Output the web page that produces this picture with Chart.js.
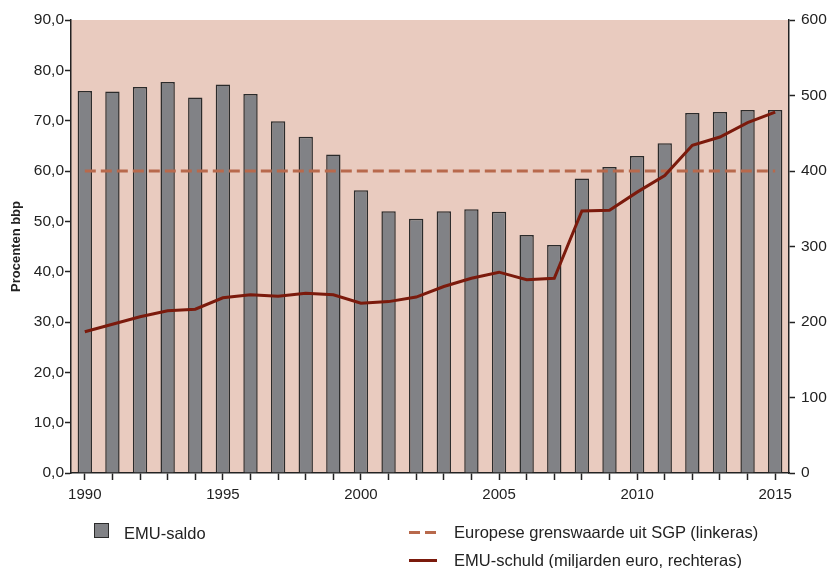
<!DOCTYPE html>
<html>
<head>
<meta charset="utf-8">
<script src="https://cdn.jsdelivr.net/npm/chart.js@4"></script>
<style>
  html, body { margin: 0; padding: 0; background: #fff; overflow: hidden; }
  #wrap { position: relative; width: 831px; height: 568px; }
  #chart { position: absolute; left: 0; top: 0; }
  .lg { position: absolute; font: 16.5px "Liberation Sans", Arial, sans-serif; color: #222; line-height: 18px; white-space: nowrap; }
  .sw { position: absolute; }
</style>
</head>
<body>
<div id="wrap">
  <canvas id="chart" width="831" height="568"></canvas>

  <div class="sw" style="left:94px;top:523px;width:13px;height:13px;background:#818286;border:1.5px solid #2b2b2b;"></div>
  <div class="lg" style="left:124px;top:524px;">EMU-saldo</div>

  <div class="sw" style="left:409px;top:531px;width:11px;height:3px;background:#b8694c;"></div>
  <div class="sw" style="left:425px;top:531px;width:11px;height:3px;background:#b8694c;"></div>
  <div class="lg" style="left:454px;top:523px;">Europese grenswaarde uit SGP (linkeras)</div>

  <div class="sw" style="left:409px;top:559px;width:28px;height:3px;background:#7b1a0c;"></div>
  <div class="lg" style="left:454px;top:551px;">EMU-schuld (miljarden euro, rechteras)</div>
</div>

<script>
const years = ['1990','1991','1992','1993','1994','1995','1996','1997','1998','1999',
               '2000','2001','2002','2003','2004','2005','2006','2007','2008','2009',
               '2010','2011','2012','2013','2014','2015'];

// procenten bbp (linkeras)
const emuSaldo = [75.9, 75.8, 76.7, 77.7, 74.6, 77.2, 75.3, 69.9, 66.8, 63.3,
                  56.2, 52.0, 50.5, 52.0, 52.4, 51.9, 47.3, 45.3, 58.5, 60.8,
                  63.0, 65.5, 71.5, 71.7, 72.1, 72.1];

// SGP-grens, 60 procent (linkeras)
const sgpGrens = [60, 60, 60, 60, 60, 60, 60, 60, 60, 60,
                  60, 60, 60, 60, 60, 60, 60, 60, 60, 60,
                  60, 60, 60, 60, 60, 60];

// miljarden euro (rechteras)
const emuSchuld = [187, 197, 207, 215, 217, 232, 236, 234, 238, 236,
                   225, 227, 233, 247, 258, 266, 256, 258, 347, 348,
                   372, 394, 434, 445, 464, 478];

const yearLabels = ['1990', '1995', '2000', '2005', '2010', '2015'];

const fontFamily = '"Liberation Sans", Arial, sans-serif';
const axisColor = '#222';

// roze achtergrond achter het plotgebied
const plotBackground = {
    id: 'plotBackground',
    beforeDraw(chart) {
        const {ctx, chartArea: a} = chart;
        ctx.save();
        ctx.fillStyle = '#e9cbbf';
        ctx.fillRect(a.left, a.top, a.right - a.left, a.bottom - a.top);
        ctx.restore();
    }
};

new Chart(document.getElementById('chart'), {
    data: {
        labels: years,
        datasets: [
            {
                type: 'line',
                label: 'EMU-schuld (miljarden euro, rechteras)',
                data: emuSchuld,
                yAxisID: 'yRight',
                borderColor: '#7b1a0c',
                borderWidth: 3,
                pointRadius: 0,
                tension: 0,
                order: 1
            },
            {
                type: 'line',
                label: 'Europese grenswaarde uit SGP (linkeras)',
                data: sgpGrens,
                yAxisID: 'y',
                borderColor: '#b8694c',
                borderWidth: 3,
                borderDash: [11, 5],
                pointRadius: 0,
                order: 2
            },
            {
                type: 'bar',
                label: 'EMU-saldo',
                data: emuSaldo,
                yAxisID: 'y',
                backgroundColor: '#818286',
                borderColor: '#2b2b2b',
                borderWidth: 1.5,
                barPercentage: 0.52,
                categoryPercentage: 1,
                order: 3
            }
        ]
    },
    options: {
        responsive: false,
        animation: false,
        devicePixelRatio: 1,
        layout: {padding: {top: 20, left: 0, right: 0, bottom: 0}},
        plugins: {
            legend: {display: false},
            tooltip: {enabled: false}
        },
        scales: {
            x: {
                afterFit: (s) => { s.height = 95; },
                offset: true,
                grid: {
                    offset: false,
                    drawOnChartArea: false,
                    tickLength: 7,
                    tickWidth: 1.5,
                    tickColor: axisColor
                },
                border: {color: axisColor, width: 1.5},
                ticks: {
                    autoSkip: false,
                    maxRotation: 0,
                    padding: 6,
                    color: axisColor,
                    font: {family: fontFamily, size: 15},
                    callback: function (v) {
                        const lbl = this.getLabelForValue(v);
                        return yearLabels.includes(lbl) ? lbl : '';
                    }
                }
            },
            y: {
                position: 'left',
                min: 0,
                max: 90,
                afterFit: (s) => { s.width = 71; },
                grid: {
                    drawOnChartArea: false,
                    tickLength: 6,
                    tickWidth: 1.5,
                    tickColor: axisColor
                },
                border: {color: axisColor, width: 1.5},
                ticks: {
                    stepSize: 10,
                    padding: 1,
                    color: axisColor,
                    font: {family: fontFamily, size: 15.5},
                    callback: (v) => v.toFixed(1).replace('.', ',')
                },
                title: {
                    display: true,
                    text: 'Procenten bbp',
                    color: axisColor,
                    padding: {top: 9, bottom: 0},
                    font: {family: fontFamily, size: 13, weight: 'bold'}
                }
            },
            yRight: {
                position: 'right',
                min: 0,
                max: 600,
                afterFit: (s) => { s.width = 42; },
                grid: {
                    drawOnChartArea: false,
                    tickLength: 6,
                    tickWidth: 1.5,
                    tickColor: axisColor
                },
                border: {color: axisColor, width: 1.5},
                ticks: {
                    stepSize: 100,
                    padding: 6,
                    color: axisColor,
                    font: {family: fontFamily, size: 15.5}
                }
            }
        }
    },
    plugins: [plotBackground]
});
</script>
</body>
</html>
